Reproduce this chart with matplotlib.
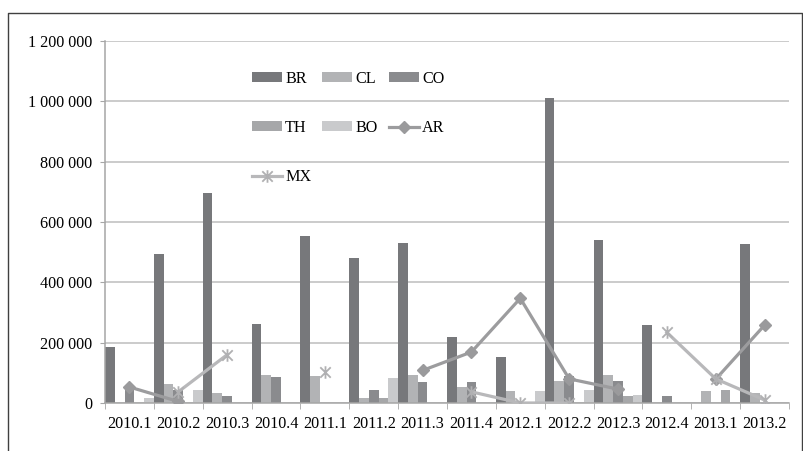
import numpy as np
import matplotlib.pyplot as plt
from matplotlib.lines import Line2D
from matplotlib.path import Path

plt.rcParams['font.family'] = ['Liberation Serif', 'DejaVu Serif']

# Data
quarters = ["2010.1", "2010.2", "2010.3", "2010.4", "2011.1", "2011.2", "2011.3",
            "2011.4", "2012.1", "2012.2", "2012.3", "2012.4", "2013.1", "2013.2"]
br = [185000, 493000, 695000, 263000, 555000, 480000, 530000,
      220000, 153000, 1012000, 540000, 258000, 0, 528000]
cl = [0, 64000, 34000, 92000, 89000, 18000, 92000,
      53000, 39000, 73000, 92000, 0, 39000, 33000]
co = [48000, 42000, 22000, 87000, 0, 42000, 69000,
      69000, 0, 88000, 72000, 22000, 0, 0]
th = [0, 0, 0, 0, 0, 18000, 0,
      0, 0, 0, 22000, 0, 42000, 0]
bo = [18000, 42000, 0, 0, 0, 84000, 0,
      0, 39000, 42000, 26000, 0, 0, 0]
nan = np.nan
ar = [53000, 5000, nan, nan, nan, nan, 108000,
      169000, 347000, 80000, 46000, nan, 79000, 258000]
mx = [nan, 37000, 160000, nan, 104000, nan, nan,
      37000, 0, 0, nan, 234000, 80000, 10000]

bar_series = [("BR", br, "#77787b"), ("CL", cl, "#b2b3b5"), ("CO", co, "#8a8b8e"),
              ("TH", th, "#a6a7a9"), ("BO", bo, "#c9cacc")]

# excel style star marker: X plus a vertical stroke
star = Path([(-1, -1), (1, 1), (-1, 1), (1, -1), (0, -1.2), (0, 1.2)],
            [Path.MOVETO, Path.LINETO, Path.MOVETO, Path.LINETO, Path.MOVETO, Path.LINETO])

fs = 11.6
fig = plt.figure(figsize=(8.04, 4.51), dpi=100)
ax = fig.add_axes([105/804, 1-403/451, 684/804, 362/451])

x = np.arange(len(quarters))
w = 0.2
handles = {}
for k, (name, vals, col) in enumerate(bar_series):
    b = ax.bar(x - 0.4 + k*w, vals, width=w, color=col, zorder=2)
    handles[name] = b

l_ar, = ax.plot(x, ar, color="#9c9c9e", lw=2.3, marker="D", ms=6.5,
                mfc="#9a9a9c", mec="#9a9a9c", zorder=3)
l_mx, = ax.plot(x, mx, color="#b8b8ba", lw=2.3, marker=star, ms=9,
                mew=1.3, mec="#b0b0b2", zorder=3)
handles["AR"] = l_ar
handles["MX"] = l_mx

ax.set_xlim(-0.5, len(quarters) - 0.5)
ax.set_ylim(0, 1200000)
yt = np.arange(0, 1200001, 200000)
ax.set_yticks(yt)
ax.set_yticklabels(["{:,}".format(v).replace(",", " ") for v in yt], fontsize=fs)
ax.set_xticks(x)
ax.set_xticklabels(quarters, fontsize=fs)
ax.set_xticks(np.arange(-0.5, len(quarters)), minor=True)
ax.tick_params(axis="x", which="major", length=0, pad=9.5)
ax.tick_params(axis="x", which="minor", length=4.5, color="#a6a6a6", direction="out")
ax.tick_params(axis="y", length=3.5, color="#a6a6a6", pad=5.5)
ax.yaxis.grid(True, color="#bdbdbd", lw=1.1, zorder=0)
ax.set_axisbelow(True)
for s in ["top", "right"]:
    ax.spines[s].set_visible(False)
ax.spines["left"].set_color("#a6a6a6")
ax.spines["bottom"].set_color("#a6a6a6")
ax.spines["left"].set_linewidth(1.1)
ax.spines["bottom"].set_linewidth(1.1)

order = ["BR", "TH", "MX", "CL", "BO", "CO", "AR"]
fig.legend([handles[n] for n in order], order, ncol=3, frameon=False,
           loc="upper left", bbox_to_anchor=(252/804, 1-71/451),
           borderpad=0, borderaxespad=0, fontsize=fs,
           handlelength=1.85, handleheight=0.6, handletextpad=0.2,
           labelspacing=2.05, columnspacing=0.7)

# chart border
W, H = 804, 451
fig.add_artist(Line2D([8/W, 8/W, 802/W, 802/W], [0, 1-13/H, 1-13/H, 0],
                      color="#404040", lw=1.0))

fig.savefig("out.png", dpi=100)
